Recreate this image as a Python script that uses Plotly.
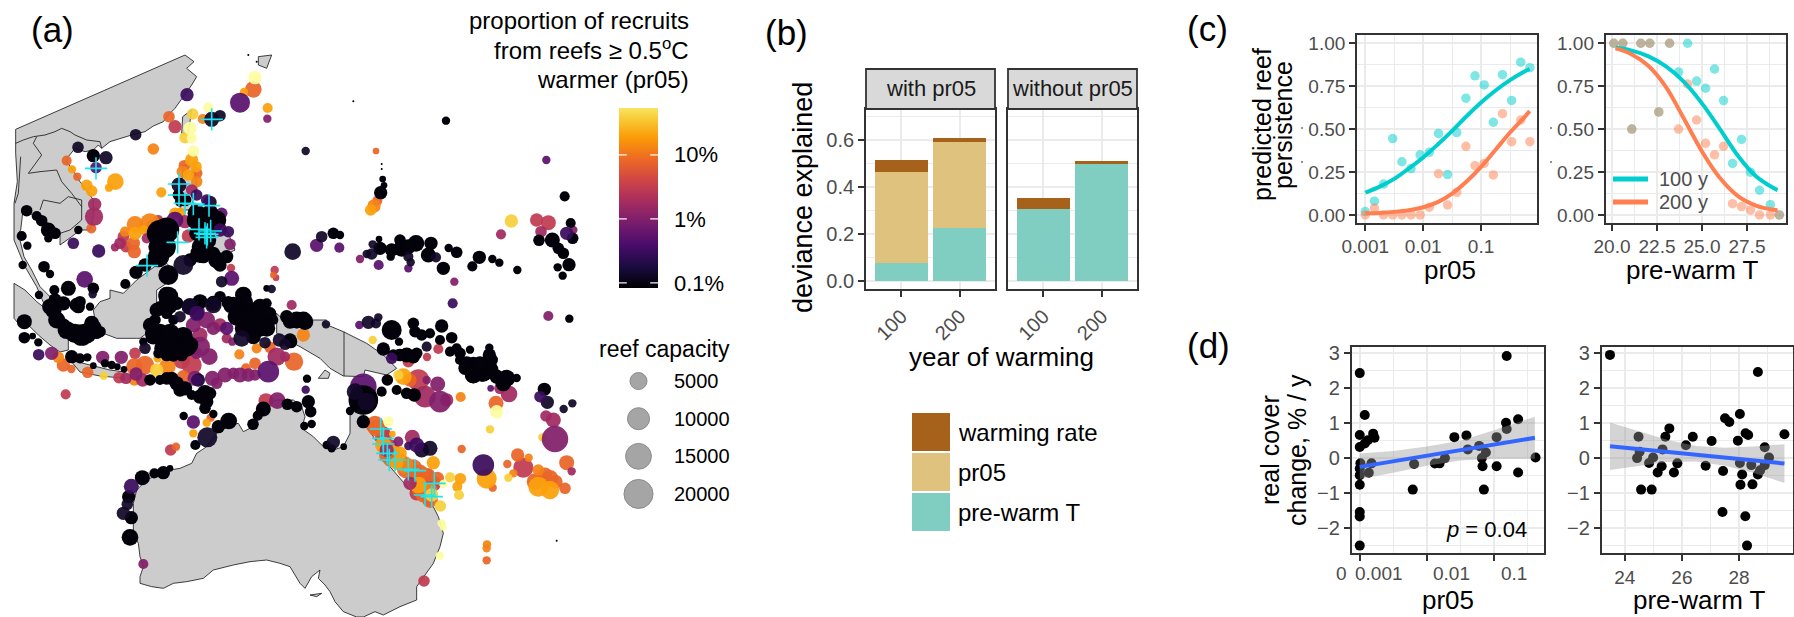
import numpy as np
import plotly.graph_objects as go

W, H = 1794, 617
FONT = "Liberation Sans"
TICKC = "#4D4D4D"
FRAME = "#333333"
GRID = "#EBEBEB"

# ---------- (a) map, in projected map units ----------
land_mainland = [(47,388),(555,165),(582,185),(560,205),(590,230),(575,255),(550,290),(525,325),(505,345),(490,365),(460,378),(435,395),(395,405),(360,415),(330,425),(305,445),(295,435),(280,450),(255,455),(225,445),(205,470),(200,485),(222,515),(240,545),(260,570),(280,600),(280,650),(270,690),(240,690),(215,710),(180,735),(180,700),(170,690),(120,650),(85,640),(68,640),(62,690),(55,700),(72,770),(95,810),(120,860),(150,890),(165,930),(140,930),(110,860),(75,800),(42,720),(42,610),(52,545),(47,460),(47,388)]
land_sumatra = [(42,850),(75,870),(110,905),(150,936),(180,975),(205,1020),(205,1050),(180,1056),(150,1035),(115,1005),(85,975),(55,970),(42,955),(42,850)]
land_java = [(210,1080),(270,1095),(330,1110),(375,1116),(366,1134),(300,1128),(240,1116),(210,1080)]
land_borneo = [(280,930),(300,905),(330,895),(330,870),(370,880),(410,840),(450,810),(490,780),(510,800),(500,850),(470,870),(470,930),(470,990),(440,1000),(420,1015),(410,1015),(350,1015),(310,1000),(285,960),(280,930)]
land_taiwan = [(548,350),(575,330),(565,400),(545,400),(548,350)]
land_luzon = [(549,495),(585,495),(591,570),(570,630),(540,630),(549,495)]
land_mindanao = [(600,675),(675,675),(705,750),(645,780),(600,750),(600,675)]
land_kyushu = [(775,170),(815,165),(800,205),(775,195),(775,170)]
land_newguinea = [(830,940),(850,960),(980,960),(970,970),(1030,995),(1100,1030),(1150,1065),(1190,1105),(1160,1125),(1095,1110),(1090,1130),(1030,1128),(990,1105),(960,1075),(900,1040),(880,1030),(850,1010),(830,1000),(830,940)]
land_aru = [(955,1135),(975,1110),(990,1120),(985,1135),(955,1135)]
land_kangaroo = [(930,1785),(965,1780),(950,1790),(930,1785)]
land_australia = [(730,1295),(715,1270),(690,1275),(650,1300),(620,1340),(590,1360),(575,1390),(540,1405),(510,1410),(470,1425),(440,1440),(410,1470),(400,1510),(400,1550),(400,1600),(415,1630),(420,1670),(430,1700),(420,1730),(420,1750),(455,1760),(490,1765),(520,1750),(560,1745),(610,1735),(640,1710),(700,1695),(750,1685),(800,1680),(840,1690),(870,1700),(900,1750),(915,1765),(935,1730),(960,1710),(955,1735),(975,1755),(990,1775),(1005,1805),(1030,1835),(1070,1851),(1090,1851),(1125,1835),(1150,1845),(1200,1820),(1250,1800),(1250,1760),(1300,1690),(1320,1640),(1330,1600),(1315,1550),(1300,1520),(1230,1470),(1170,1400),(1140,1340),(1100,1280),(1090,1240),(1075,1190),(1060,1165),(1050,1240),(1050,1300),(1030,1340),(1000,1350),(970,1340),(940,1310),(905,1285),(915,1250),(905,1220),(880,1200),(830,1200),(790,1210),(770,1250),(750,1285),(730,1295)]
border_lines = [
    [(47,430),(70,420),(100,410),(135,405),(165,395),(185,385),(210,395),(225,405),(260,420),(300,425),(305,445)],
    [(110,410),(100,430),(125,465),(85,520),(120,515),(170,510),(185,545),(215,580),(245,620)],
    [(120,630),(130,600),(180,610),(205,590),(245,600),(245,660),(210,690),(180,700)],
    [(62,470),(55,580),(45,610)],
    [(1032,995),(1032,1128)],
]

# proportion classes, percent of recruits
K, N, D, P, M, R, E, O, G, A, Y, V = 0.09, 0.13, 0.3, 0.5, 1.0, 1.7, 3, 8, 13, 20, 40, 85

reefs_north = [(765,233,2400,V),(760,268,4700,O),(732,276,400,A),(720,308,7800,P),(803,324,900,A),(802,356,400,M),(917,453,400,N),(625,323,900,V),(660,347,1500,N),(635,358,3500,N),(608,357,900,G),(578,342,1500,Y),(561,284,2400,D),(507,350,1500,O),(525,380,2400,E),(570,385,2400,V),(575,415,900,V),(555,413,1500,Y),(407,404,1500,N),(460,447,1500,G),(580,453,1500,V),(575,480,2400,A),(588,500,1500,A),(553,497,1500,O),(565,525,1500,A),(547,515,1500,G),(590,520,1500,O),(590,545,1500,G),(537,555,3500,N),(575,570,1500,R),(590,585,1500,D),(535,585,1500,K),(540,605,900,K),(620,600,1500,D),(630,607,2400,N),(665,640,1500,P),(660,690,2400,D),(685,695,1500,D),(690,733,1500,M),(695,835,3500,P),(665,845,1500,N),(693,804,400,E)]
reefs_south_china = [(680,770,2400,K),(660,795,2400,K),(640,760,2400,K),(625,660,16000,K),(590,660,7800,K),(590,700,3500,K),(640,680,3500,K),(600,740,4700,K),(610,770,2400,K),(570,780,2400,K),(550,795,7800,N),(505,825,7800,K),(480,700,16000,K),(470,740,4700,K),(480,770,6200,K),(435,795,2400,K),(408,817,2400,K),(376,852,900,K),(500,885,4700,K),(525,660,4700,P),(555,665,2400,R),(540,640,1500,A),(525,640,1500,A),(565,708,2400,E),(405,673,4700,G),(450,670,7800,G),(475,660,900,E),(460,680,3500,G),(430,690,900,A),(405,700,2400,A),(375,695,900,G),(370,710,1500,E),(360,730,1500,R),(345,742,400,R),(378,740,1500,E),(400,730,2400,O),(403,755,2400,O),(440,715,900,R)]
reefs_vietnam = [(280,467,2400,K),(318,473,2400,N),(288,503,1500,P),(234,442,1500,N),(200,482,900,O),(216,508,400,A),(232,530,400,O),(260,556,1500,A),(275,573,1500,A),(327,563,400,A),(346,545,4700,A),(484,577,900,A),(284,613,2400,R),(282,650,6200,R),(274,685,900,O),(235,690,400,K),(220,730,1500,D),(296,753,2400,D)]
reefs_malay = [(80,632,1500,K),(110,648,900,K),(125,662,1500,K),(145,690,3500,K),(165,700,1500,K),(145,715,400,K),(65,708,900,K),(82,737,400,K),(68,795,400,K),(132,800,1500,K),(150,822,400,K),(117,885,400,K),(205,865,3500,K),(254,838,4700,P),(280,865,1500,K),(278,883,400,N),(163,870,900,K),(165,900,2400,K),(240,905,1500,K)]
reefs_celebes = [(878,755,4700,N),(950,736,2400,P),(965,710,1500,N),(824,810,400,E),(820,825,100,O),(828,833,100,E),(815,867,400,N),(800,865,100,K),(875,915,900,R),(730,885,4700,K),(700,910,2400,K),(685,905,1500,K),(770,920,900,K),(800,910,900,K),(505,890,7800,K),(570,920,4700,N),(600,905,3500,K),(640,910,3500,K),(660,890,1500,K),(592,935,3500,P)]
reefs_pacific = [(1338,362,400,K),(1128,453,100,O),(1148,537,100,K),(1152,556,100,K),(1142,578,2400,K),(1132,602,900,O),(1122,618,2400,G),(1112,630,1500,A),(1534,663,2400,Y),(1610,660,2400,E),(1645,668,3500,E),(1623,695,1500,R),(1503,703,900,R),(1639,480,400,P),(1694,589,900,K),(1712,669,900,K),(1720,690,400,M),(1700,700,2400,D),(1718,715,1500,K),(1617,721,1500,K),(1657,720,3500,K),(1675,745,1500,K),(1690,760,1500,K),(1707,794,2400,K),(1673,802,400,K),(1688,827,400,K),(1000,700,1500,K),(1020,705,400,K),(1018,743,900,P),(1080,777,400,M),(1100,762,400,N),(1118,733,400,N),(1137,717,100,K),(1136,795,900,P),(1115,762,1500,N),(1140,745,2400,K),(1175,750,2400,K),(1172,770,400,K),(1200,720,1500,K),(1205,745,4700,K),(1248,730,4700,K),(1225,740,3500,K),(1225,770,900,N),(1232,787,400,N),(1225,805,400,P),(1293,730,2400,K),(1285,765,3500,K),(1308,772,900,N),(1330,805,2400,K),(1346,744,400,K),(1370,757,1500,K),(1363,845,400,M),(1358,910,900,D),(1438,772,2400,K),(1417,799,900,K),(1477,777,400,K),(1498,788,400,K),(1552,810,400,K)]
reefs_sunda = [(73,965,3500,K),(73,1013,1500,K),(98,1008,100,K),(115,1027,400,K),(116,1064,1500,D),(155,1060,2400,M),(175,1072,1500,G),(190,1095,2400,O),(214,1107,400,O),(263,1117,1500,O),(311,1127,400,Y),(280,1097,100,K),(215,1070,2400,K),(240,1075,900,K),(262,1072,400,K),(308,1072,2400,M),(364,1072,2400,M),(405,1060,1500,E),(315,1090,400,K),(335,1095,400,K),(352,1100,100,K),(372,1108,100,K),(197,1183,900,E),(403,1100,4700,O),(435,1095,6200,O),(408,1122,2400,M),(357,1133,1500,E),(378,1135,1500,R),(403,1140,1500,G),(428,1140,2400,R),(470,1110,2400,Y),(502,1100,4700,G),(473,1075,400,A),(545,1082,4700,E),(575,1095,7800,E),(550,1130,2400,O)]
reefs_banda = [(590,1140,1500,D),(585,1135,3500,M),(595,1140,2400,N),(637,1135,3500,M),(650,1150,1500,M),(675,1125,3500,M),(700,1120,1500,M),(720,1125,3500,M),(745,1125,2400,M),(765,1125,1500,M),(805,1115,9600,P),(738,1105,900,O),(765,1090,1500,O),(882,1085,6200,O),(718,1063,900,G),(770,1045,900,G),(810,1042,1500,O),(830,1070,6200,R),(855,1070,900,R),(838,1020,2400,N),(855,1033,1500,N),(910,1005,2400,G),(872,1025,2400,K),(915,965,4700,K),(860,950,2400,K),(890,965,2400,K),(880,960,2400,K),(978,973,400,N)]
reefs_sulawesi = [(465,960,1500,K),(455,1000,2400,K),(435,1045,1500,N),(480,920,1500,K),(500,940,1500,K),(520,960,900,K),(540,950,1500,N),(570,920,4700,N),(590,940,3500,D),(620,960,4700,M),(580,975,3500,M),(600,1005,3500,R),(660,975,2400,R),(640,985,2400,M),(680,985,2400,P),(680,1015,900,R),(697,1025,400,M),(725,1015,4700,N),(760,1010,3500,K),(795,1028,1500,N),(600,1040,7800,M),(628,1070,4700,M),(590,1060,1500,M),(480,1010,4700,K),(520,1005,4700,K),(550,1005,3500,K),(570,1035,4700,K),(540,1040,4700,K),(500,1050,3500,K),(475,1060,900,K),(520,1070,900,K),(430,1025,400,K),(735,950,6200,K),(770,960,6200,K),(800,970,3500,K),(760,930,3500,K),(720,920,4700,K),(790,920,2400,K),(745,985,4700,K),(780,990,2400,K),(820,960,900,K),(680,910,900,K),(640,915,4700,N),(530,910,2400,K),(160,930,4700,K),(190,975,2400,K),(215,1000,1500,K),(245,1005,9600,K),(275,970,3500,K),(300,995,1500,K),(235,920,2400,K),(270,920,400,K),(170,950,1500,K),(175,910,1500,K)]
reefs_timor = [(450,1140,1500,K),(480,1140,900,K),(515,1135,2400,K),(540,1170,2400,K),(575,1185,900,K),(615,1180,4700,K),(615,1225,1500,K),(640,1242,400,K),(551,1248,400,K),(580,1266,2400,P),(632,1253,400,O),(620,1268,400,A),(580,1300,400,A),(622,1312,7800,N),(586,1335,900,K),(655,1280,2400,K),(686,1263,4700,K),(759,1273,1500,K),(798,1202,3500,E),(790,1227,3500,K),(773,1247,900,K),(832,1202,4700,M),(862,1213,1500,K),(890,1220,1500,K),(925,1205,2400,K),(932,1235,1500,K),(913,1278,400,K),(935,1272,400,K),(921,1136,400,K),(917,1169,400,D),(528,1340,400,O),(512,1350,1500,E),(427,1433,3500,K),(463,1420,900,K),(490,1418,2400,K),(510,1405,100,K),(394,1459,3500,D),(386,1490,2400,K),(382,1513,1500,N),(370,1540,2400,N),(394,1553,2400,K),(390,1612,4700,K),(430,1692,900,M),(980,1335,400,K)]
reefs_coral_north = [(1645,948,900,M),(1708,956,400,K),(1078,975,400,P),(1105,967,2400,N),(1135,952,400,N),(1128,970,900,N),(1175,990,7800,K),(1197,1025,400,K),(1240,970,1500,K),(1245,995,1500,K),(1265,1005,1500,K),(1290,1000,900,K),(1325,978,2400,K),(1355,1013,1500,K),(1320,1020,900,K),(1280,1040,900,N),(1315,1047,900,E),(1281,1071,400,E),(1150,1047,2400,K),(1118,1020,400,Y),(1175,1075,1500,D),(1195,1065,1500,K),(1220,1065,3500,K),(1250,1060,1500,K),(1225,1085,1500,E),(1410,1049,400,K),(1370,1045,900,K),(1350,1055,900,K),(1380,1080,900,K),(1395,1105,2400,K),(1420,1090,2400,K),(1420,1125,4700,K),(1445,1120,4700,K),(1468,1043,400,K),(1468,1065,2400,K),(1470,1105,3500,K),(1510,1140,3500,K),(1550,1134,400,K),(1500,1165,1500,R),(1527,1182,4700,R),(1472,1165,100,P),(1488,1210,3500,O),(1490,1235,2400,V),(1382,1191,900,G),(1470,1288,400,Y)]
reefs_coral_east = [(1633,1168,2400,K),(1620,1190,1500,D),(1642,1207,2400,N),(1691,1227,400,N),(1717,1210,400,N),(1638,1248,1500,R),(1660,1260,3500,R),(1665,1317,16000,M),(1627,1312,400,Y),(1700,1388,3500,O),(1715,1414,400,R),(1553,1365,2400,O),(1586,1373,400,G),(1570,1403,7800,E),(1522,1392,400,O),(1540,1420,400,G),(1525,1433,400,Y),(1615,1410,1500,G),(1635,1425,3500,O),(1605,1445,4700,O),(1650,1435,4700,O),(1668,1445,2400,O),(1615,1460,7800,A),(1650,1470,6200,A),(1695,1465,1500,O),(1450,1395,9600,D),(1460,1436,7800,A),(1478,1463,400,O),(1385,1347,400,O)]
reefs_gbr = [(1210,1130,4700,A),(1195,1125,900,Y),(1255,1140,9600,E),(1280,1140,400,M),(1313,1152,3500,M),(1230,1140,2400,O),(1275,1190,9600,R),(1320,1205,9600,M),(1340,1200,2400,R),(1243,1185,2400,K),(1220,1180,1500,K),(1190,1170,900,K),(1162,1140,1500,K),(1145,1175,900,K),(1090,1160,16000,P),(1065,1175,4700,N),(1090,1200,21000,K),(1100,1205,6200,N),(1050,1233,400,K),(1090,1265,2400,K),(1125,1275,6200,O),(1165,1265,900,V),(1150,1310,4700,E),(1177,1302,100,A),(1150,1335,4700,A),(1195,1325,900,M),(1237,1312,3500,R),(1250,1335,3500,D),(1225,1338,400,D),(1265,1350,3500,N),(1290,1345,3500,N),(1162,1365,4700,O),(1185,1350,900,A),(1170,1380,2400,O),(1190,1390,2400,A),(1220,1405,7800,O),(1245,1420,4700,E),(1230,1450,2400,R),(1300,1388,2400,A),(1285,1425,2400,O),(1312,1435,2400,O),(1255,1455,4700,A),(1270,1485,3500,O),(1295,1485,2400,Y),(1285,1505,900,E),(1321,1518,1500,Y),(1330,1452,400,V),(1350,1432,900,Y),(1381,1436,1500,A),(1372,1460,900,A),(1377,1485,900,Y),(1325,1570,400,V),(1330,1582,100,V),(1319,1667,400,V),(1272,1743,1500,E),(1461,1633,400,G),(1460,1645,400,G),(1460,1681,400,O),(1000,1327,2400,N),(995,1345,400,K),(1031,1340,100,K)]
reefs_dense_west = [(500,690,14000,K),(490,740,14000,K),(475,770,9000,K),(610,680,12000,K),(650,660,7000,K),(620,720,7000,K),(600,760,7000,K),(650,780,5000,K),(590,640,6000,K),(630,640,5000,K),(555,600,2000,K),(170,960,5000,K),(200,990,6000,K),(225,1000,7000,K),(260,1000,8000,K),(280,985,5000,K),(150,920,4000,K),(190,910,3000,K),(230,915,3000,K),(290,1000,1500,K)]
reefs_dense_centre = [(480,1000,7000,K),(510,1000,7000,K),(550,1010,7000,K),(530,1040,9000,K),(560,1040,8000,K),(490,1045,6000,K),(460,1010,4000,K),(450,975,3000,K),(500,1065,2000,K),(545,1065,2000,K),(470,930,3000,K),(510,920,3000,K),(720,920,7000,K),(750,950,9000,K),(710,950,6000,K),(780,950,7000,K),(800,985,5000,K),(760,985,6000,K),(730,985,5000,K),(780,920,4000,K),(810,940,2000,K),(690,920,2000,K),(740,905,2000,K),(890,960,5000,K),(910,960,5000,K),(870,965,3000,K),(870,1020,2500,K)]
reefs_dense_east = [(1380,1060,1500,K),(1400,1090,3000,K),(1430,1100,4000,K),(1420,1125,5000,K),(1450,1120,5000,K),(1470,1110,5000,K),(1490,1130,3000,K),(1520,1135,5000,K),(1510,1150,4000,K),(1460,1090,2500,K),(1440,1090,3000,K),(1475,1080,2000,K),(1200,1065,2000,K),(1240,1070,2500,K),(1180,1065,1500,K),(500,1135,2000,K),(530,1150,3000,K),(555,1165,3000,K),(600,1190,3000,K),(620,1205,2500,K),(630,1180,2000,K)]
reefs_gbr_fill = [(1130,1285,5000,O),(1150,1300,3000,E),(1175,1360,4000,O),(1200,1385,5000,O),(1215,1395,5000,G),(1240,1405,6000,O),(1260,1420,5000,O),(1280,1430,5000,E),(1300,1450,4000,E),(1260,1470,4000,O),(1250,1480,3000,E),(1290,1470,3000,G),(1290,1500,4000,O),(1200,1360,2500,A),(1170,1340,3500,E),(1160,1350,3000,R)]
reef_specks_x = [1060, 1145, 1145, 1670, 745, 770]
reef_specks_y = [304, 492, 507, 1622, 165, 185]
cross_x = [288,635,537,537,555,580,627,597,632,615,620,622,533,441,1142,1150,1150,1162,1168,1185,1225,1245,1303,1275,1295]
cross_y = [505,358,552,585,610,612,617,688,693,700,712,703,727,797,1287,1315,1332,1360,1380,1380,1408,1412,1450,1485,1490]
colorbar_tick_pct = [0.1, 1, 10]
colorbar_tick_text = ["0.1%", "1%", "10%"]
legend_caps = [5000, 10000, 15000, 20000]

# ---------- (b) ----------
years = ["100", "200"]
with_T = [0.078, 0.226]
with_pr05 = [0.387, 0.367]
with_rate = [0.051, 0.017]
without_T = [0.305, 0.50]
without_rate = [0.05, 0.01]
b_legend_labels = ["warming rate", "pr05", "pre-warm T"]
b_colors = ["#A6611A", "#DFC27D", "#80CDC1"]

# ---------- (c) ----------
c_pr05 = [0.001,0.00144,0.00207,0.00298,0.00429,0.00617,0.00887,0.01276,0.01837,0.02642,0.038,0.05467,0.07864,0.11314,0.16275,0.23414,0.33683,0.48456,0.69712]
c_y100 = [.02,.08,.18,.445,.31,.27,.35,.365,.475,.235,.48,.68,.81,.757,.54,.817,.667,.89,.858]
c_y200 = [0,.04,0,0,0,0,0,.045,.24,.058,.132,.40,.287,.30,.233,.59,.427,.553,.427]
c_fit_pr = [0.001,0.00178,0.00316,0.00562,0.01,0.0178,0.0316,0.0562,0.1,0.178,0.316,0.562,0.69]
c_fit100 = [.13,.165,.21,.27,.335,.41,.49,.575,.655,.725,.785,.835,.85]
c_fit200 = [.01,.012,.018,.028,.045,.075,.125,.195,.28,.38,.48,.57,.606]
c_temp = [20.1,20.6,21.1,21.6,22.1,22.6,23.2,23.7,24.2,24.7,25.2,25.7,26.2,26.7,27.2,27.7,28.2,28.8,29.3]
c_t100 = [1,1,.5,1,1,.6,1,.833,1,.78,.738,.85,.666,.30,.44,.249,.144,.06,0]
c_t200 = [1,1,.5,1,1,.6,1,.5,.763,.553,.417,.35,.40,.066,.049,.029,0,0,0]
c_fit_t = [20.2,21,22,23,24,25,26,27,28,29,29.2]
c_fitt100 = [.975,.96,.925,.865,.775,.65,.50,.345,.225,.155,.145]
c_fitt200 = [.97,.94,.87,.745,.56,.37,.215,.11,.055,.03,.028]

# ---------- (d) ----------
d_pr = [-3,-2.925,-3,-2.80,-2.78,-2.88,-2.925,-3,-2.99,-2.825,-2.865,-3,-3,-3,-3,-3,-3,-2.19,-2.21,-1.88,-.81,-1.59,-1.41,-.82,-.64,-.81,-.96,-1.22,-1.39,-1.12,-1.18,-1.73,-1.81,-1.17,-.96,-.64,-.38,-1.15]
d_pr_y = [2.43,1.23,.66,.70,.58,.51,.42,.32,-.15,-.15,-.42,-.30,-.49,-.76,-1.54,-1.67,-2.5,-.17,-.90,-.155,2.92,.60,.65,1.01,1.11,.83,.60,.35,.25,.16,0,0,-.15,-.23,-.23,-.41,.02,-.90]
d_fit_pr = [-3, -.39]
d_fit_pr_y = [-.25, .58]
d_band_pr = [-3,-2.5,-2,-1.5,-1,-.39]
d_band_pr_hi = [.13,.2,.33,.50,.80,1.18]
d_band_pr_lo = [-.60,-.42,-.22,-.07,-.02,-.02]
d_t = [23.48,28.66,28.03,27.51,27.66,28.23,28.32,29.59,27.96,27.04,26.38,26.14,25.56,25.42,24.48,25.32,24.52,24.99,24.43,24.85,25.29,25.84,26.83,25.15,25.72,27.44,28.03,28.90,29.05,28.43,28.11,28.66,28.9,28.74,28.47,28.05,24.57,24.94,27.42,28.22,28.28]
d_t_y = [2.95,2.46,1.26,1.14,1.03,.71,.66,.68,.50,.49,.61,.37,.85,.61,.61,.25,.18,.02,0,-.14,-.23,-.15,-.22,-.41,-.41,-.37,-.14,.31,.02,-.2,-.47,-.47,-.2,-.35,-.75,-.76,-.90,-.90,-1.54,-1.66,-2.5]
d_fit_t = [23.48, 29.59]
d_fit_t_y = [.34, -.155]
d_band_t = [23.48,24.5,25.5,26.5,27.5,28.5,29.59]
d_band_t_hi = [1.02,.76,.52,.35,.30,.33,.40]
d_band_t_lo = [-.34,-.22,-.11,-.10,-.22,-.42,-.71]

# ---------- helpers ----------
def px(x): return x / W
def py(y): return 1 - y / H
def dx(l, r): return [l / W, r / W]
def dy(t, b): return [1 - b / H, 1 - t / H]
def cap_size(c): return 5 + 0.17 * np.sqrt(np.asarray(c, dtype=float))

annotations, shapes = [], []
def text(x, y, s, size, color="black", xa="center", ya="middle", rot=0):
    annotations.append(dict(x=px(x), y=py(y), xref="paper", yref="paper", text=s, showarrow=False,
                            xanchor=xa, yanchor=ya, textangle=rot, align="center",
                            font=dict(family=FONT, size=size, color=color)))

fig = go.Figure()

CMIN, CMAX = -1.08, 1.945
for poly in [land_mainland, land_sumatra, land_java, land_borneo, land_taiwan, land_luzon, land_mindanao,
             land_kyushu, land_newguinea, land_aru, land_kangaroo, land_australia]:
    fig.add_trace(go.Scatter(x=[p[0] for p in poly], y=[p[1] for p in poly], mode="lines", fill="toself",
                             fillcolor="#CCCCCC", line=dict(color="#111111", width=0.8), xaxis="x", yaxis="y",
                             hoverinfo="skip"))
for ln in border_lines:
    fig.add_trace(go.Scatter(x=[p[0] for p in ln], y=[p[1] for p in ln], mode="lines",
                             line=dict(color="#111111", width=0.8), xaxis="x", yaxis="y", hoverinfo="skip"))

reefs = (reefs_north + reefs_south_china + reefs_vietnam + reefs_malay + reefs_celebes + reefs_pacific +
         reefs_sunda + reefs_banda + reefs_sulawesi + reefs_timor + reefs_coral_north + reefs_coral_east + reefs_gbr +
         reefs_dense_west + reefs_dense_centre + reefs_dense_east + reefs_gbr_fill)
def draw_rank(r):
    p = r[3]
    if p >= E: return -200 + p          # warm colours first, brightest above
    if p >= P: return -50 - p           # then magenta to purple
    return {K: 1, N: 2, D: 3}[p]
reefs = sorted(reefs, key=draw_rank)
fig.add_trace(go.Scatter(
    x=[r[0] for r in reefs], y=[r[1] for r in reefs], mode="markers", xaxis="x", yaxis="y",
    marker=dict(size=cap_size([r[2] for r in reefs]), color=np.log10([r[3] for r in reefs]),
                cmin=CMIN, cmax=CMAX, colorscale="Inferno",
                opacity=[1.0 if r[3] == K else 0.93 for r in reefs], line=dict(width=0))))
fig.add_trace(go.Scatter(x=reef_specks_x, y=reef_specks_y, mode="markers", xaxis="x", yaxis="y",
                         marker=dict(size=2, color="black")))
fig.add_trace(go.Scatter(x=cross_x, y=cross_y, mode="markers", xaxis="x", yaxis="y",
                         marker=dict(symbol="cross-thin", size=16, line=dict(color="#19E6F0", width=1.6))))

ramp = np.linspace(CMIN, 1.733, 180)
fig.add_trace(go.Heatmap(z=[[v] for v in ramp], y=ramp, x=[0], colorscale="Inferno", zmin=CMIN, zmax=CMAX,
                         showscale=False, xaxis="x2", yaxis="y2", hoverinfo="skip"))
for p_, t_ in zip(colorbar_tick_pct, colorbar_tick_text):
    v = np.log10(p_)
    for a, b in [(-0.5, -0.3), (0.3, 0.5)]:
        shapes.append(dict(type="line", xref="x2", yref="y2", x0=a, x1=b, y0=v, y1=v,
                           line=dict(color="white", width=1.2)))
    text(672, 219 - 64 * v, t_, 22, xa="left")

fig.add_trace(go.Scatter(x=[0] * 4, y=[0, 1, 2, 3], mode="markers", xaxis="x9", yaxis="y9", cliponaxis=False,
                         marker=dict(size=cap_size(legend_caps), color="#808080",
                                     line=dict(color="#5A5A5A", width=1))))
for i, c in enumerate(legend_caps):
    text(672, 381 + 37.6 * i, str(c), 20, xa="left")
text(597, 349, "reef capacity", 23, xa="left")

for xa_, ya_, series in [("x3", "y3", [(with_T, 2), (with_pr05, 1), (with_rate, 0)]),
                         ("x4", "y4", [(without_T, 2), (without_rate, 0)])]:
    for vals, ci in series:
        fig.add_trace(go.Bar(x=years, y=vals, width=0.9, marker=dict(color=b_colors[ci], line=dict(width=0)),
                             xaxis=xa_, yaxis=ya_))

TEAL, CORAL = "#00CDCD", "#FF7F50"
fig.add_trace(go.Scatter(x=np.log10(c_pr05), y=c_y100, mode="markers", xaxis="x5", yaxis="y5", cliponaxis=False,
                         marker=dict(size=9.5, color=TEAL, opacity=0.5)))
fig.add_trace(go.Scatter(x=np.log10(c_pr05), y=c_y200, mode="markers", xaxis="x5", yaxis="y5", cliponaxis=False,
                         marker=dict(size=9.5, color=CORAL, opacity=0.5)))
fig.add_trace(go.Scatter(x=np.log10(c_fit_pr), y=c_fit100, mode="lines", xaxis="x5", yaxis="y5",
                         line=dict(color=TEAL, width=4, shape="spline")))
fig.add_trace(go.Scatter(x=np.log10(c_fit_pr), y=c_fit200, mode="lines", xaxis="x5", yaxis="y5",
                         line=dict(color=CORAL, width=4, shape="spline")))
fig.add_trace(go.Scatter(x=c_temp, y=c_t100, mode="markers", xaxis="x6", yaxis="y6", cliponaxis=False,
                         marker=dict(size=9.5, color=TEAL, opacity=0.5)))
fig.add_trace(go.Scatter(x=c_temp, y=c_t200, mode="markers", xaxis="x6", yaxis="y6", cliponaxis=False,
                         marker=dict(size=9.5, color=CORAL, opacity=0.5)))
fig.add_trace(go.Scatter(x=c_fit_t, y=c_fitt100, mode="lines", xaxis="x6", yaxis="y6",
                         line=dict(color=TEAL, width=4, shape="spline")))
fig.add_trace(go.Scatter(x=c_fit_t, y=c_fitt200, mode="lines", xaxis="x6", yaxis="y6",
                         line=dict(color=CORAL, width=4, shape="spline")))

BLUE = "#3366FF"
BAND = "rgba(153,153,153,0.42)"
for xs, ys, fx, fy, bx, hi, lo, xa_, ya_ in [
    (d_pr, d_pr_y, d_fit_pr, d_fit_pr_y, d_band_pr, d_band_pr_hi, d_band_pr_lo, "x7", "y7"),
    (d_t, d_t_y, d_fit_t, d_fit_t_y, d_band_t, d_band_t_hi, d_band_t_lo, "x8", "y8")]:
    fig.add_trace(go.Scatter(x=xs, y=ys, mode="markers", xaxis=xa_, yaxis=ya_, cliponaxis=False,
                             marker=dict(size=10, color="black")))
    fig.add_trace(go.Scatter(x=bx + bx[::-1], y=hi + lo[::-1], mode="lines", fill="toself", fillcolor=BAND,
                             line=dict(width=0), xaxis=xa_, yaxis=ya_, hoverinfo="skip"))
    fig.add_trace(go.Scatter(x=fx, y=fy, mode="lines", line=dict(color=BLUE, width=4), xaxis=xa_, yaxis=ya_))

def panel_axis(domain, rng, anchor, tickvals=None, ticktext=None, minor=None, size=19, show_labels=True, ticks=True, **kw):
    d = dict(domain=domain, range=rng, anchor=anchor, showline=True, mirror=True, linecolor=FRAME, linewidth=1.8,
             showgrid=True, gridcolor=GRID, gridwidth=1.6, zeroline=False,
             ticks="outside" if ticks else "", ticklen=6, tickwidth=1.6, tickcolor=FRAME,
             showticklabels=show_labels, tickfont=dict(family=FONT, size=size, color=TICKC))
    if tickvals is not None:
        d.update(tickmode="array", tickvals=tickvals)
    if ticktext is not None:
        d["ticktext"] = ticktext
    if minor is not None:
        d["minor"] = dict(tickmode="array", tickvals=minor, showgrid=True, gridcolor=GRID, gridwidth=0.9, ticks="")
    d.update(kw)
    return d

layout = dict(
    margin=dict(l=0, r=0, t=0, b=0, autoexpand=False), autosize=True, showlegend=False, barmode="stack",
    bargap=0.1, plot_bgcolor="rgba(0,0,0,0)", paper_bgcolor="white", font=dict(family=FONT),
    xaxis=dict(domain=dx(0, 760), range=[0, 2280], visible=False, anchor="y"),
    yaxis=dict(domain=dy(0, 617), range=[1851, 0], visible=False, anchor="x"),
    xaxis2=dict(domain=dx(619, 658), range=[-0.5, 0.5], visible=False, anchor="y2"),
    yaxis2=dict(domain=dy(108, 288), range=[CMIN, 1.733], visible=False, anchor="x2"),
    xaxis9=dict(domain=dx(620, 657), range=[-1, 1], visible=False, anchor="y9"),
    yaxis9=dict(domain=dy(365, 510), range=[3.426, -0.426], visible=False, anchor="x9"),
)
b_y = dict(tickvals=[0, .2, .4, .6], minor=[.1, .3, .5, .7])
layout["xaxis3"] = panel_axis(dx(866, 995), [-0.6, 1.6], "y3", type="category", tickangle=-45, categoryorder="array", categoryarray=years, size=20)
layout["yaxis3"] = panel_axis(dy(109, 289), [-0.034, 0.733], "x3", ticktext=["0.0", "0.2", "0.4", "0.6"], size=20, **b_y)
layout["xaxis4"] = panel_axis(dx(1008, 1137), [-0.6, 1.6], "y4", type="category", tickangle=-45, categoryorder="array", categoryarray=years, size=20)
layout["yaxis4"] = panel_axis(dy(109, 289), [-0.034, 0.733], "x4", show_labels=False, ticks=False, **b_y)
c_y = dict(tickvals=[0, .25, .5, .75, 1], ticktext=["0.00", "0.25", "0.50", "0.75", "1.00"], minor=[.125, .375, .625, .875])
layout["xaxis5"] = panel_axis(dx(1357, 1537), [-3.143, -0.034], "y5", tickvals=[-3, -2, -1], ticktext=["0.001", "0.01", "0.1"], minor=[-2.5, -1.5, -.5])
layout["yaxis5"] = panel_axis(dy(35, 222.7), [-0.045, 1.048], "x5", **c_y)
layout["xaxis6"] = panel_axis(dx(1605.7, 1786), [19.65, 29.67], "y6", tickvals=[20, 22.5, 25, 27.5], ticktext=["20.0", "22.5", "25.0", "27.5"], minor=[21.25, 23.75, 26.25, 28.75])
layout["yaxis6"] = panel_axis(dy(35, 222.7), [-0.045, 1.048], "x6", **c_y)
d_y = dict(tickvals=[-2, -1, 0, 1, 2, 3], minor=[-2.5, -1.5, -.5, .5, 1.5, 2.5], size=20)
layout["xaxis7"] = panel_axis(dx(1351.7, 1544), [-3.12, -0.254], "y7", tickvals=[-3, -2, -1], minor=[-2.5, -1.5, -.5], show_labels=False)
layout["yaxis7"] = panel_axis(dy(346.5, 553.3), [-2.72, 3.19], "x7", **d_y)
layout["xaxis8"] = panel_axis(dx(1601.7, 1793), [23.19, 29.89], "y8", tickvals=[24, 26, 28], minor=[23, 25, 27, 29], size=19)
layout["yaxis8"] = panel_axis(dy(346.5, 553.3), [-2.72, 3.19], "x8", **d_y)

for s, x, y in [("(a)", 52, 30), ("(b)", 786, 32), ("(c)", 1207, 29), ("(d)", 1208, 345)]:
    text(x, y, s, 35)
text(691, 20, "proportion of recruits", 24, xa="right")
text(691, 49, "from reefs ≥ 0.5<sup>o</sup>C", 24, xa="right")
text(691, 79, "warmer (pr05)", 24, xa="right")

for l, r, s in [(866, 995, "with pr05"), (1008, 1137, "without pr05")]:
    shapes.append(dict(type="rect", xref="paper", yref="paper", x0=px(l), x1=px(r), y0=py(69), y1=py(109),
                       fillcolor="#D9D9D9", line=dict(color=FRAME, width=1.8)))
    text((l + r) / 2, 89, s, 22, color="#1A1A1A")
text(803, 198, "deviance explained", 27, rot=-90)
text(1001, 357, "year of warming", 26)
for i, (lab, col) in enumerate(zip(b_legend_labels, b_colors)):
    shapes.append(dict(type="rect", xref="paper", yref="paper", x0=px(912), x1=px(950),
                       y0=py(413 + 40 * i), y1=py(451 + 40 * i), fillcolor=col, line=dict(width=0)))
    text(956, 432 + 40 * i, lab, 24, xa="left")

text(1262, 125, "predicted reef", 25, rot=-90)
text(1283, 125, "persistence", 25, rot=-90)
text(1450, 270, "pr05", 26)
text(1692, 270, "pre-warm T", 26)
for yy, col, lab in [(179, TEAL, "100 y"), (202, CORAL, "200 y")]:
    shapes.append(dict(type="line", xref="paper", yref="paper", x0=px(1613), x1=px(1648), y0=py(yy), y1=py(yy),
                       line=dict(color=col, width=5)))
    text(1657, yy, lab, 20, color=TICKC, xa="left")
for x_ in [1302, 1551]:
    for y_ in [128, 162]:
        shapes.append(dict(type="rect", xref="paper", yref="paper", x0=px(x_ - 0.7), x1=px(x_ + 0.7),
                           y0=py(y_ - 0.7), y1=py(y_ + 0.7), fillcolor="#333333", line=dict(width=0)))

text(1270, 450, "real cover", 25, rot=-90)
text(1297, 450, "change, % / y", 25, rot=-90)
for lab, x_ in [("0", 1341), ("0.001", 1379), ("0.01", 1451), ("0.1", 1514)]:
    text(x_, 573, lab, 19, color=TICKC)
text(1448, 600, "pr05", 26)
text(1699, 600, "pre-warm T", 26)
text(1486, 529, "<i>p</i> = 0.04", 22)

layout["annotations"] = annotations
layout["shapes"] = shapes
fig.update_layout(**layout)
fig.write_html("out.html", config={"displayModeBar": False},
               default_width="1794px; position:fixed; left:0; top:0",
               default_height="617px")
